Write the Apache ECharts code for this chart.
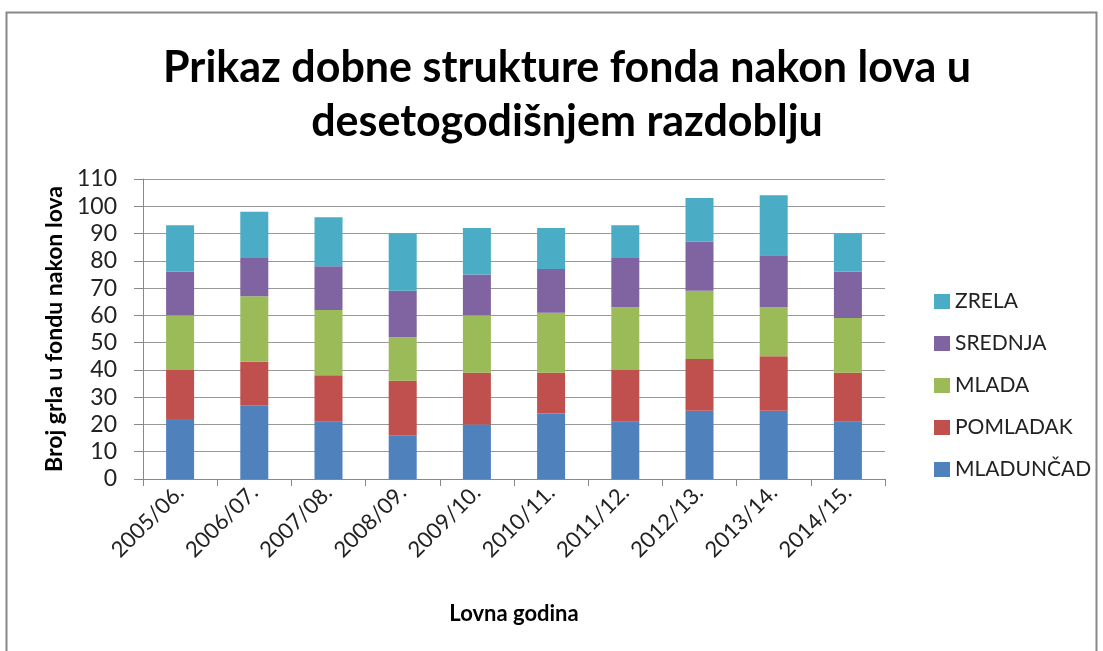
<!DOCTYPE html>
<html lang="hr">
<head>
    <meta charset="UTF-8">
    <title>Prikaz dobne strukture fonda nakon lova</title>
    <script src="https://cdn.jsdelivr.net/npm/echarts@6/dist/echarts.min.js"></script>
    <style>
        html, body { margin: 0; padding: 0; background: #fff; }
        #chart { width: 1103px; height: 651px; }
    </style>
</head>
<body>
    <div id="chart"></div>
    <script>
        // podaci ocitani s grafa
        var godine = ['2005/06.', '2006/07.', '2007/08.', '2008/09.', '2009/10.',
            '2010/11.', '2011/12.', '2012/13.', '2013/14.', '2014/15.'];
        var mladuncad = [22, 27, 21, 16, 20, 24, 21, 25, 25, 21];
        var pomladak = [18, 16, 17, 20, 19, 15, 19, 19, 20, 18];
        var mlada = [20, 24, 24, 16, 21, 22, 23, 25, 18, 20];
        var srednja = [16, 14, 16, 17, 15, 16, 18, 18, 19, 17];
        var zrela = [17, 17, 18, 21, 17, 15, 12, 16, 22, 14];
        var legendaRedom = ['ZRELA', 'SREDNJA', 'MLADA', 'POMLADAK', 'MLADUNČAD'];

        var fontFam = 'Lato, "Open Sans", sans-serif';

        var chart = echarts.init(document.getElementById('chart'));

        function serija(ime, data, boja) {
            return {
                name: ime,
                type: 'bar',
                stack: 'ukupno',
                barWidth: 28,
                data: data,
                itemStyle: { color: boja },
                emphasis: { disabled: true }
            };
        }

        var option = {
            backgroundColor: '#fff',
            animation: false,
            title: {
                text: 'Prikaz dobne strukture fonda nakon lova u\ndesetogodišnjem razdoblju',
                left: 562,
                textAlign: 'center',
                top: 36,
                textStyle: {
                    fontFamily: fontFam,
                    fontSize: 43,
                    fontWeight: 'bold',
                    color: '#000',
                    lineHeight: 54
                }
            },
            graphic: [{
                type: 'rect',
                shape: { x: 6.5, y: 12.5, width: 1090, height: 660 },
                style: { fill: 'none', stroke: '#888', lineWidth: 2 },
                silent: true
            }],
            legend: {
                orient: 'vertical',
                left: 929,
                top: 286,
                itemWidth: 16,
                itemHeight: 15,
                itemGap: 21,
                icon: 'rect',
                data: legendaRedom,
                textStyle: { fontFamily: fontFam, fontSize: 21, color: '#222', lineHeight: 21 }
            },
            grid: { left: 143, right: 218, top: 179, bottom: 172 },
            xAxis: {
                type: 'category',
                data: godine,
                name: 'Lovna godina',
                nameLocation: 'middle',
                nameGap: 124,
                nameTextStyle: { fontFamily: fontFam, fontSize: 22, fontWeight: 'bold', color: '#000' },
                axisLine: { lineStyle: { color: '#888' } },
                axisTick: { show: true, length: 7, lineStyle: { color: '#888' } },
                axisLabel: { rotate: 45, fontFamily: fontFam, fontSize: 22, color: '#222', margin: 10 }
            },
            yAxis: {
                type: 'value',
                min: 0,
                max: 110,
                interval: 10,
                name: 'Broj grla u fondu nakon lova',
                nameLocation: 'middle',
                nameGap: 76,
                nameTextStyle: { fontFamily: fontFam, fontSize: 23, fontWeight: 'bold', color: '#000' },
                axisLine: { show: true, lineStyle: { color: '#888' } },
                axisTick: { show: true, length: 9, lineStyle: { color: '#888' } },
                splitLine: { lineStyle: { color: '#999', width: 1 } },
                axisLabel: { fontFamily: fontFam, fontSize: 23, color: '#222', margin: 26 }
            },
            series: [
                serija('MLADUNČAD', mladuncad, '#4F81BD'),
                serija('POMLADAK', pomladak, '#C0504D'),
                serija('MLADA', mlada, '#9BBB59'),
                serija('SREDNJA', srednja, '#8064A2'),
                serija('ZRELA', zrela, '#4BACC6')
            ]
        };

        chart.setOption(option);
    </script>
</body>
</html>
